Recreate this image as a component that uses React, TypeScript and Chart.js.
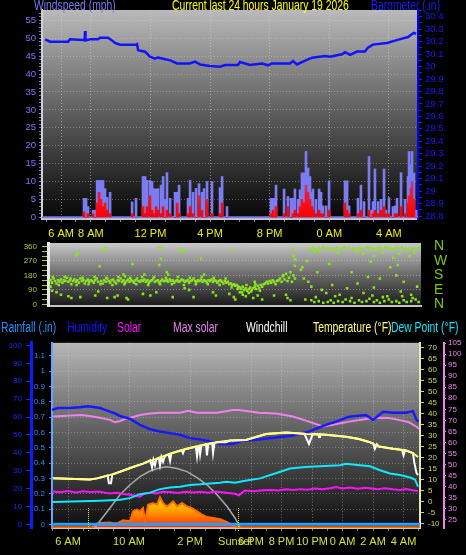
import React, { useEffect, useRef } from 'react';
import { Chart, registerables } from 'chart.js';

Chart.register(...registerables);
Chart.defaults.font.family = "'Liberation Sans', Arial, sans-serif";

// ---------------- DATA ----------------
// time is expressed in hours since midnight of Jan 18 (24 = midnight, 28 = 4 AM next day)
const topTickHours = [6, 8, 12, 16, 20, 24, 28];
const topTickLabels = ['6 AM', '8 AM', '12 PM', '4 PM', '8 PM', '0 AM', '4 AM'];
const bottomTickHours = [6, 10, 14, 18, 20, 22, 24, 26, 28];
const bottomTickLabels = ['6 AM', '10 AM', '2 PM', '6 PM', '8 PM', '10 PM', '0 AM', '2 AM', '4 AM'];
const compassDegrees = [0, 90, 180, 270, 360];
const compassLabels = ['N', 'E', 'S', 'W', 'N'];
const sunriseHour = 7.31;
const sunsetHour = 17.15;

// wind (mph)
const windHours = [7.54, 7.68, 7.81, 8.15, 8.28, 8.42, 8.55, 8.68, 8.82, 8.95, 9.09, 9.29, 10.77, 11.03, 11.5, 11.64, 11.77, 11.97, 12.11, 12.24, 12.38, 12.51, 12.71, 12.85, 12.98, 13.11, 13.32, 13.65, 13.79, 13.92, 14.52, 14.66, 14.86, 15.06, 15.26, 15.46, 15.6, 15.8, 16.13, 16.67, 16.81, 17.14, 20.09, 20.23, 20.36, 20.43, 20.97, 21.23, 21.44, 21.57, 21.7, 21.91, 22.04, 22.17, 22.31, 22.44, 22.58, 22.71, 22.85, 22.91, 23.11, 23.32, 23.45, 23.58, 23.79, 23.99, 25.06, 25.2, 25.33, 25.93, 26.13, 26.34, 26.67, 26.81, 26.94, 27.07, 27.28, 27.48, 27.68, 27.81, 28.01, 28.28, 28.42, 28.55, 28.82, 29.09, 29.29, 29.36, 29.49, 29.56, 29.69, 29.83];
const gustMph = [5.3, 5.3, 3, 2, 2, 10.3, 10.3, 10.3, 10.3, 8, 5.6, 7, 4.3, 5.3, 11.4, 11.4, 10.3, 10.3, 10, 8, 7.9, 8, 9, 11.4, 5, 12.5, 5.3, 7, 7, 9, 5.3, 10.3, 7, 8.1, 9.4, 7, 8, 10, 10, 8.3, 11.4, 3, 5.3, 5.3, 5.3, 9, 7.9, 5.8, 5.3, 5.3, 7.9, 5, 7.7, 12.4, 12.4, 18.4, 13.8, 11.4, 7, 7.9, 5, 7.9, 7, 3.2, 3.2, 10.2, 10.2, 10.2, 3.2, 5.3, 9, 4.4, 17, 2, 4.4, 13.5, 4.4, 5, 13.5, 2, 5.5, 3, 3.2, 5.3, 12.5, 5, 11.4, 18.4, 14.7, 18.4, 12.4, 2];
const avgMph = [1.5, 0, 1, 1, 0, 4, 7, 5, 3, 4, 2, 1, 1, 0, 3, 1, 3, 6, 2, 1, 3, 2, 1, 3, 0, 2, 1, 0, 4, 1, 1, 3, 1, 0, 6, 2, 0, 5, 1, 1, 4, 0, 1, 2, 0, 3, 1, 3, 0, 1, 2, 1, 3, 5, 4, 9, 7, 5, 3, 2, 1, 2, 1, 1, 0, 2, 4, 2, 1, 1, 2, 0, 2, 0, 1, 2, 1, 2, 3, 1, 1, 0, 1, 1, 3, 1, 4, 6, 8, 10, 5, 0];

// barometer (in)
const baroHours = [4.93, 5.26, 6.47, 6.6, 7.48, 7.58, 7.61, 7.64, 7.95, 8.48, 8.62, 9.15, 9.42, 9.62, 9.96, 11.03, 11.1, 11.17, 11.64, 11.97, 12.31, 12.51, 12.85, 13.32, 13.79, 14.66, 14.99, 15.33, 16.0, 16.67, 17.01, 17.88, 18.01, 18.68, 19.49, 19.89, 20.16, 21.37, 21.57, 21.84, 22.24, 22.85, 23.72, 24.05, 24.86, 25.06, 25.4, 25.87, 26.4, 26.6, 26.94, 27.88, 28.42, 28.89, 29.29, 29.56, 29.69, 29.83];
const baroInches = [30.219, 30.2, 30.2, 30.219, 30.214, 30.214, 30.285, 30.21, 30.219, 30.219, 30.232, 30.232, 30.21, 30.189, 30.176, 30.176, 30.18, 30.132, 30.119, 30.079, 30.063, 30.073, 30.063, 30.05, 30.025, 30.025, 30.039, 30.017, 30.004, 29.999, 30.012, 30.012, 30.036, 30.012, 30.025, 30.01, 30.025, 30.025, 30.044, 30.017, 30.039, 30.071, 30.084, 30.079, 30.098, 30.115, 30.093, 30.12, 30.12, 30.152, 30.176, 30.189, 30.208, 30.224, 30.237, 30.261, 30.27, 30.262];

// wind direction readings [hour, degrees]
const dirDayBand: [number, number][] = [[5.3, 150], [5.4, 135], [5.5, 160], [5.6, 145], [5.7, 130], [5.8, 150], [5.9, 140], [6.0, 155], [6.1, 135], [6.2, 150], [6.3, 145], [6.4, 165], [6.5, 140], [6.6, 150], [6.7, 125], [6.8, 145], [6.9, 155], [7.0, 140], [7.1, 150], [7.2, 135], [7.3, 160], [7.4, 145], [7.5, 150], [7.6, 130], [7.7, 145], [7.8, 155], [7.9, 140], [8.0, 150], [8.1, 145], [8.2, 135], [8.3, 150], [8.4, 160], [8.5, 140], [8.7, 145], [8.8, 130], [8.9, 150], [9.0, 140], [9.1, 160], [9.2, 145], [9.3, 135], [9.4, 150], [9.5, 155], [9.6, 140], [9.7, 130], [9.8, 150], [9.9, 145], [10.0, 160], [10.1, 140], [10.2, 150], [10.3, 135], [10.4, 145], [10.5, 155], [10.6, 140], [10.7, 150], [10.8, 145], [10.9, 135], [11.0, 150], [11.1, 160], [11.2, 145], [11.3, 140], [11.4, 150], [11.5, 145], [11.6, 155], [11.7, 140], [11.8, 150], [11.9, 135], [12.0, 145], [12.1, 150], [12.2, 160], [12.3, 140], [12.4, 145], [12.5, 150], [12.6, 135], [12.7, 145], [12.8, 155], [12.9, 145], [13.0, 145], [13.1, 150], [13.2, 140], [13.3, 155], [13.4, 145], [13.5, 150], [13.6, 135], [13.7, 145], [13.8, 150], [13.9, 140], [14.0, 145], [14.1, 155], [14.2, 150], [14.3, 140], [14.4, 145], [14.5, 150], [14.6, 135], [14.7, 145], [14.8, 150], [14.9, 160], [15.0, 145], [15.1, 140], [15.2, 150], [15.3, 145], [15.4, 155], [15.5, 140], [15.6, 150], [15.7, 145], [15.8, 135], [15.9, 150], [16.0, 145], [16.1, 155], [16.2, 140], [16.3, 150], [16.4, 145], [16.5, 135], [16.6, 145], [16.7, 150], [16.8, 140], [16.9, 130], [17.0, 145], [17.1, 135], [17.2, 140], [17.3, 125], [17.4, 130], [17.5, 120], [17.6, 125], [17.7, 115], [17.8, 120], [17.9, 110]];
const dirDaySpread: [number, number][] = [[5.45, 170], [5.85, 120], [6.25, 170], [6.65, 160], [7.05, 120], [7.45, 165], [7.85, 125], [8.25, 170], [8.65, 125], [9.05, 165], [9.45, 120], [9.85, 170], [10.25, 125], [10.65, 165], [11.05, 125], [11.45, 170], [11.85, 120], [12.25, 170], [12.65, 125], [13.05, 165], [13.45, 125], [13.85, 170], [14.25, 120], [14.65, 165], [15.05, 125], [15.45, 170], [15.85, 125], [16.25, 165], [16.65, 120], [17.05, 160], [17.45, 105], [17.85, 95]];
const dirDayScatter: [number, number][] = [[5.3, 110], [5.4, 85], [5.7, 75], [6.0, 60], [6.5, 50], [6.7, 40], [7.0, 305], [7.1, 315], [7.3, 45], [8.3, 55], [8.5, 80], [8.6, 237], [8.8, 341], [9.0, 350], [9.1, 40], [9.6, 45], [9.8, 55], [10.2, 185], [10.3, 175], [10.4, 40], [10.5, 30], [10.8, 250], [11.5, 65], [11.6, 185], [12.0, 55], [12.4, 75], [12.6, 245], [12.6, 355], [12.7, 345], [12.7, 285], [13.1, 200], [13.2, 185], [13.5, 45], [14.0, 340], [14.1, 335], [14.3, 330], [14.3, 100], [14.6, 90], [14.9, 45], [15.4, 285], [15.6, 185], [16.2, 75], [16.4, 55], [17.3, 65], [17.4, 340], [17.6, 45], [17.7, 30], [18.0, 75]];
const dirEvening: [number, number][] = [[18.0, 105], [18.1, 95], [18.2, 110], [18.3, 90], [18.4, 100], [18.5, 85], [18.6, 95], [18.7, 105], [18.8, 90], [18.9, 100], [19.0, 110], [19.1, 95], [19.2, 115], [19.3, 100], [19.4, 120], [19.5, 110], [19.6, 125], [19.7, 130], [18.15, 75], [18.45, 120], [18.75, 80], [19.05, 125], [19.35, 85], [18.2, 60], [18.4, 50], [18.6, 70], [18.9, 40], [19.2, 55], [19.5, 30], [19.0, 140], [19.8, 140], [19.9, 130], [20.0, 145], [20.1, 135], [20.2, 150], [20.3, 140], [20.4, 125], [20.5, 145], [20.6, 150], [20.7, 160], [20.8, 140], [20.9, 175], [21.0, 155], [21.1, 190], [21.2, 145], [21.3, 165], [21.4, 200], [21.5, 140], [21.6, 180], [21.7, 160], [20.9, 180], [21.6, 340], [21.6, 300], [21.7, 280], [21.7, 240], [22.2, 230], [22.1, 215], [20.3, 55], [21.1, 60], [21.2, 40], [21.4, 25]];
const dirNight: [number, number][] = [[22.7, 345], [22.9, 350], [23.1, 340], [23.4, 345], [23.6, 355], [23.9, 350], [24.1, 345], [24.3, 340], [24.5, 350], [24.8, 345], [25.0, 355], [25.3, 350], [25.6, 345], [25.8, 340], [26.0, 350], [26.2, 345], [26.5, 355], [26.7, 350], [26.9, 345], [27.1, 340], [27.3, 350], [27.5, 345], [27.8, 355], [28.0, 350], [28.2, 340], [28.4, 345], [28.6, 350], [28.9, 355], [29.1, 345], [29.3, 340], [29.6, 350], [29.8, 345], [30.0, 350], [23.0, 325], [23.3, 330], [24.6, 320], [25.9, 325], [26.3, 315], [27.6, 320], [28.7, 315], [29.4, 300], [29.7, 320], [27.0, 300], [28.3, 290], [22.3, 160], [22.6, 140], [22.8, 110], [23.2, 200], [23.5, 90], [23.8, 70], [24.2, 120], [24.7, 60], [25.2, 100], [25.5, 200], [25.9, 130], [26.3, 70], [26.6, 170], [27.0, 105], [27.4, 160], [27.9, 50], [28.1, 230], [28.5, 180], [28.8, 80], [29.0, 140], [29.5, 60], [29.9, 110], [22.5, 270], [24.0, 250], [26.8, 265], [28.6, 245], [22.4, 30], [22.8, 25], [23.0, 15], [23.3, 20], [23.6, 10], [23.9, 15], [24.1, 25], [24.3, 10], [24.6, 20], [24.9, 15], [25.1, 30], [25.4, 20], [25.7, 10], [26.0, 25], [26.2, 15], [26.5, 20], [26.7, 35], [27.0, 15], [27.2, 25], [27.4, 10], [27.7, 20], [28.0, 30], [28.2, 15], [28.5, 20], [28.7, 10], [29.0, 25], [29.2, 15], [29.5, 20], [29.8, 30], [30.0, 15], [23.1, 45], [24.4, 50], [25.5, 40], [26.9, 55], [27.6, 45], [28.9, 50], [29.6, 40]];

// lower panel series
const tempHours = [5.02, 7.44, 7.9, 8.75, 9.41, 10.26, 10.92, 11.84, 12.69, 13.54, 14.66, 15.77, 16.36, 16.62, 17.67, 18.98, 20.3, 21.61, 22.92, 24.23, 25.08, 25.74, 26.39, 27.31, 28.16, 28.62, 28.95];
const tempF = [10.5, 10, 10.5, 12, 13.5, 15.7, 17.2, 19.5, 21.7, 23.5, 25.4, 26.9, 26.9, 27.7, 28, 30.7, 31.4, 30.7, 30.4, 29.5, 28.4, 27.1, 25, 24, 23.2, 22, 20.2];
const chillHours = [5.02, 7.44, 7.9, 8.6, 8.68, 8.82, 8.9, 9.41, 10.26, 10.92, 11.4, 11.51, 11.6, 11.7, 11.8, 11.95, 12.03, 12.12, 12.23, 12.35, 12.6, 12.69, 12.78, 13.45, 13.54, 13.63, 14.38, 14.46, 14.55, 14.6, 14.66, 14.74, 15.05, 15.11, 15.2, 15.45, 15.51, 15.6, 15.77, 16.62, 17.67, 18.98, 20.3, 21.5, 21.8, 22.05, 22.4, 22.46, 22.52, 22.92, 24.23, 25.08, 25.74, 26.0, 26.12, 26.25, 26.39, 27.31, 27.9, 28.0, 28.1, 28.16, 28.62, 28.7, 28.85, 28.95];
const chillF = [10.5, 10, 10.5, 11.8, 8.3, 8.3, 12.2, 13.5, 15.7, 17.2, 18.8, 15.5, 19, 16.5, 19.4, 19.9, 16.5, 20.2, 18, 20.6, 21.4, 18.5, 21.9, 23.3, 22, 23.7, 25, 20.5, 25.2, 25.3, 21.5, 25.5, 26, 21, 26.2, 26.6, 22, 26.7, 26.9, 27.7, 28, 30.7, 31.4, 30.8, 26.2, 30.7, 30.6, 29.3, 30.6, 30.4, 29.5, 28.4, 27.1, 26.5, 24, 26, 25, 24, 23.5, 21, 23.3, 23.2, 22, 18, 13, 12];
const dewHours = [4.95, 8.1, 8.75, 9.41, 10.07, 10.72, 11.38, 12.03, 12.69, 13.34, 14.0, 14.66, 15.31, 15.97, 16.36, 16.95, 17.61, 18.59, 19.57, 20.56, 21.54, 22.52, 23.84, 24.23, 25.15, 25.8, 26.46, 27.11, 27.77, 28.43, 28.75, 28.95];
const dewF = [-0.3, 0.3, 0.5, 0.8, 1.5, 3.3, 4, 5.6, 6.3, 6.7, 7.5, 7.8, 8.2, 8.5, 9, 8.5, 9.4, 10.5, 12.7, 15, 15.7, 16, 16.5, 17.2, 16.5, 16, 14.2, 12.7, 12, 10.9, 10, 6.7];
const humHours = [4.95, 5.34, 6.13, 6.79, 7.31, 7.77, 8.1, 8.43, 8.75, 9.08, 9.41, 9.74, 10.07, 10.72, 11.38, 12.03, 12.69, 13.34, 14.0, 14.66, 15.31, 15.97, 16.82, 17.48, 18.52, 19.64, 20.75, 21.8, 22.92, 23.57, 24.43, 25.54, 26.0, 26.66, 27.31, 28.16, 28.62, 28.82, 28.95];
const humPct = [64, 65, 65, 65.5, 66, 65.5, 65, 64, 63, 62, 60.6, 59.8, 58.9, 55.6, 53.2, 51.9, 51, 50.1, 48.2, 47.4, 46.4, 44.9, 44.9, 46.8, 47.4, 48.6, 49.7, 51.9, 55.6, 57.4, 60.2, 61.1, 58.4, 62.9, 62.4, 62.4, 63.3, 58.9, 57.4];
const violetHours = [5.02, 6.79, 7.44, 8.1, 8.75, 9.08, 9.41, 9.74, 10.07, 10.72, 11.38, 12.03, 13.34, 13.87, 14.46, 15.77, 16.82, 17.21, 18.52, 19.64, 20.75, 21.8, 22.72, 23.38, 24.43, 25.54, 26.39, 27.05, 27.7, 28.36, 28.82, 29.02];
const violetVals = [71.7, 72.4, 72, 71.2, 70.2, 69.1, 69.7, 70.6, 71.2, 72.4, 73.1, 73.4, 73.4, 74.3, 73.4, 73.4, 74.7, 74.7, 73.4, 73.1, 71.7, 69.4, 67.2, 68, 69.4, 70.6, 71.2, 71, 70.2, 69.1, 67.2, 66.2];
const magentaHours = [4.95, 5.5, 6.0, 6.5, 7.0, 7.44, 8.0, 8.5, 8.75, 9.2, 9.6, 10.07, 10.4, 10.72, 11.0, 11.38, 11.8, 12.2, 12.69, 13.2, 13.7, 14.2, 14.66, 15.2, 15.7, 16.36, 16.95, 17.2, 17.61, 18.2, 18.8, 19.25, 19.8, 20.3, 20.8, 21.21, 21.7, 22.2, 22.7, 23.18, 23.6, 24.0, 24.49, 25.0, 25.5, 25.8, 26.3, 26.8, 27.3, 27.77, 28.2, 28.6, 28.95];
const magentaVals = [4.5, 4.2, 4.7, 4.1, 4.6, 4.3, 4.5, 3.9, 3.6, 4.0, 3.4, 3.0, 2.6, 2.2, 3.5, 4.0, 3.6, 4.4, 4.3, 3.8, 4.4, 4.1, 4.4, 4.0, 4.5, 4.0, 3.5, 2.8, 5.0, 4.6, 5.1, 5.2, 5.0, 5.5, 5.2, 5.6, 5.3, 5.9, 5.5, 6.0, 6.6, 5.9, 6.3, 5.8, 6.2, 6.0, 5.6, 6.0, 5.5, 5.2, 5.6, 5.1, 4.8];
const rainHours = [4.95, 29.08];
const rainInches = [0, 0];
const maxSolarHours = [7.77, 8.75, 9.41, 10.07, 10.72, 11.38, 12.03, 12.49, 13.15, 13.8, 14.46, 15.11, 15.77, 16.43, 16.95, 17.28];
const maxSolarWm2 = [0, 120, 203, 265, 316, 351, 371, 378, 367, 347, 310, 265, 203, 130, 58, 0];
const solarHours = [4.95, 7.64, 7.77, 8.1, 8.75, 8.95, 9.28, 9.61, 10.07, 10.26, 10.52, 10.72, 10.92, 11.05, 11.25, 11.57, 11.84, 12.03, 12.23, 12.49, 12.69, 12.89, 13.15, 13.48, 13.8, 14.13, 14.46, 14.79, 15.11, 15.51, 15.97, 16.43, 16.82, 17.15, 29.08];
const solarWm2 = [0, 0, 20, 27, 30, 25, 27, 44, 38, 100, 110, 100, 120, 38, 141, 151, 141, 186, 151, 130, 145, 161, 130, 151, 130, 120, 100, 79, 64, 58, 50, 32, 12, 0, 0];

// ---------------- helpers ----------------
const pts = (xs: number[], ys: number[]) => xs.map((x, i) => ({ x, y: ys[i] }));
const pairPts = (arr: [number, number][]) => arr.map(([x, y]) => ({ x, y }));
const topLabel = (v: number) => {
  const i = topTickHours.indexOf(v);
  return i >= 0 ? topTickLabels[i] : '';
};
const bottomLabel = (v: number) => {
  const i = bottomTickHours.indexOf(v);
  return i >= 0 ? bottomTickLabels[i] : '';
};
const compassLabel = (v: number) => {
  const i = compassDegrees.indexOf(v);
  return i >= 0 ? compassLabels[i] : '';
};
const CLEAR = 'rgba(0,0,0,0)';

function gradientBg(id: string, stops: [number, string][]) {
  return {
    id,
    beforeDraw(chart: any) {
      const { ctx, chartArea: a } = chart;
      if (!a) return;
      const g = ctx.createLinearGradient(0, a.top, 0, a.bottom);
      stops.forEach(([o, c]) => g.addColorStop(o, c));
      ctx.save();
      ctx.fillStyle = g;
      ctx.fillRect(a.left, a.top, a.right - a.left, a.bottom - a.top);
      ctx.restore();
    },
  };
}

const calmLine = {
  id: 'calmLine',
  beforeDatasetsDraw(chart: any) {
    const { ctx, chartArea: a, scales } = chart;
    const y = scales.wind.getPixelForValue(0);
    ctx.save();
    ctx.strokeStyle = '#7a7ae8';
    ctx.lineWidth = 2;
    ctx.beginPath();
    ctx.moveTo(a.left, y);
    ctx.lineTo(a.right, y);
    ctx.stroke();
    ctx.restore();
  },
};

const sunMarks = {
  id: 'sunMarks',
  afterDatasetsDraw(chart: any) {
    const { ctx, chartArea: a, scales } = chart;
    ctx.save();
    ctx.strokeStyle = '#e8e830';
    ctx.lineWidth = 1;
    ctx.setLineDash([1, 1]);
    [sunriseHour, sunsetHour].forEach((h) => {
      const px = Math.round(scales.x.getPixelForValue(h)) + 0.5;
      ctx.beginPath();
      ctx.moveTo(px, a.bottom - 20);
      ctx.lineTo(px, a.bottom + 4);
      ctx.stroke();
    });
    ctx.setLineDash([]);
    ctx.fillStyle = '#d4e23a';
    ctx.font = "11px 'Liberation Sans', Arial, sans-serif";
    ctx.textBaseline = 'middle';
    ctx.textAlign = 'left';
    ctx.fillText('Sunset', scales.x.getPixelForValue(sunsetHour) - 20, a.bottom + 13.5);
    ctx.restore();
  },
};

const Txt = ({ x, y, color, children }: { x: number; y: number; color: string; children: React.ReactNode }) => (
  <div
    style={{
      position: 'absolute',
      left: x,
      top: y,
      color,
      font: "14px/14px 'Liberation Sans', Arial, sans-serif",
      whiteSpace: 'nowrap',
      transform: 'scaleX(0.74)',
      transformOrigin: '0 0',
    }}
  >
    {children}
  </div>
);

export default function App() {
  const c1 = useRef<HTMLCanvasElement>(null);
  const c2 = useRef<HTMLCanvasElement>(null);
  const c3 = useRef<HTMLCanvasElement>(null);

  useEffect(() => {
    document.body.style.margin = '0';
    document.body.style.background = '#000';

    const common = {
      responsive: false,
      animation: false as const,
      devicePixelRatio: 1,
      plugins: { legend: { display: false }, tooltip: { enabled: false } },
    };

    // ---------- panel 1: wind + barometer ----------
    const redGrad = (ctx: any) => {
      const chart = ctx.chart;
      const s = chart.scales && chart.scales.wind;
      if (!chart.chartArea || !s) return '#ff2020';
      const g = chart.ctx.createLinearGradient(0, s.getPixelForValue(0), 0, s.getPixelForValue(12));
      g.addColorStop(0, '#ff0000');
      g.addColorStop(0.5, '#f0182a');
      g.addColorStop(1, 'rgba(190,40,140,0.6)');
      return g;
    };

    const chart1 = new Chart(c1.current as HTMLCanvasElement, {
      type: 'bar',
      data: {
        datasets: [
          { type: 'line', data: pts(baroHours, baroInches), yAxisID: 'baro', borderColor: '#1212ff', borderWidth: 2.5, pointRadius: 0, tension: 0, order: 0 } as any,
          { type: 'bar', data: pts(windHours, avgMph), yAxisID: 'wind', backgroundColor: redGrad, barThickness: 2, grouped: false, order: 1 } as any,
          { type: 'bar', data: pts(windHours, gustMph), yAxisID: 'wind', backgroundColor: '#7c7cf0', barThickness: 2, grouped: false, order: 2 } as any,
        ],
      },
      options: {
        ...common,
        layout: { padding: { top: 10, left: 0, right: 0, bottom: 0 } },
        scales: {
          x: {
            type: 'linear', min: 4.72, max: 29.96, offset: false,
            afterFit: (s: any) => { s.height = 26; },
            ticks: { stepSize: 1, autoSkip: false, includeBounds: false, maxRotation: 0, color: '#eeee10', font: { size: 11 }, padding: 5, callback: (v: any) => topLabel(Number(v)) },
            grid: { offset: false, color: (c: any) => (c.tick && topTickHours.includes(c.tick.value) ? 'rgba(215,215,215,0.55)' : CLEAR), tickColor: '#8a8a9a', tickLength: 3 },
            border: { color: '#c8c8c8', width: 2, dash: [1, 2] },
          },
          wind: {
            position: 'left', min: -0.47, max: 57.9,
            afterFit: (s: any) => { s.width = 42; },
            ticks: { stepSize: 1, autoSkip: false, includeBounds: false, color: '#7a7aff', font: { size: 9.5 }, padding: 3, callback: (v: any) => (Number(v) % 5 === 0 ? String(v) : '') },
            grid: { color: (c: any) => (c.tick && c.tick.value % 5 === 0 && c.tick.value > 0 ? 'rgba(215,215,215,0.4)' : CLEAR), tickColor: '#6c6ce0', tickLength: 3 },
            border: { color: '#d0d0d0', width: 2, dash: [1, 2] },
          },
          baro: {
            position: 'right', min: 28.776, max: 30.454,
            afterFit: (s: any) => { s.width = 48; },
            ticks: { stepSize: 0.05, autoSkip: false, includeBounds: false, color: '#1a1aff', font: { size: 9.5 }, padding: 3, callback: (v: any) => (Math.round(Number(v) * 100) % 10 === 0 ? String(Math.round(Number(v) * 10) / 10) : '') },
            grid: { drawOnChartArea: false, tickColor: '#1a1aff', tickLength: 4 },
            border: { color: '#0000ff', width: 2 },
          },
        },
      } as any,
      plugins: [gradientBg('bg1', [[0, '#bababa'], [0.5, '#5c5c5c'], [1, '#060606']]), calmLine],
    });

    // ---------- panel 2: wind direction ----------
    const chart2 = new Chart(c2.current as HTMLCanvasElement, {
      type: 'scatter',
      data: {
        datasets: [
          {
            data: [...pairPts(dirDayBand), ...pairPts(dirDaySpread), ...pairPts(dirDayScatter), ...pairPts(dirEvening), ...pairPts(dirNight)],
            pointStyle: 'rect', pointRadius: 1.8, backgroundColor: '#8ce41c', borderWidth: 0,
          } as any,
        ],
      },
      options: {
        ...common,
        layout: { padding: { top: 13, left: 0, right: 0, bottom: 0 } },
        scales: {
          x: {
            type: 'linear', min: 5.13, max: 30.16,
            afterFit: (s: any) => { s.height = 4; },
            ticks: { display: false },
            grid: { display: false },
            border: { color: '#c4c4c4', width: 2 },
          },
          y: {
            position: 'left', min: -11.4, max: 381,
            afterFit: (s: any) => { s.width = 48; },
            ticks: { stepSize: 30, autoSkip: false, includeBounds: false, color: '#a0d034', font: { size: 8 }, padding: 5, callback: (v: any) => (Number(v) % 90 === 0 ? String(v) : '') },
            grid: { color: (c: any) => (c.tick && c.tick.value % 90 === 0 && c.tick.value > 0 ? 'rgba(225,225,225,0.45)' : CLEAR), tickColor: '#a0d034', tickLength: 6 },
            border: { color: '#e8e8e8', width: 3, dash: [1, 2] },
          },
          compass: {
            position: 'right', min: -11.4, max: 381,
            afterFit: (s: any) => { s.width = 45; },
            ticks: { stepSize: 90, autoSkip: false, includeBounds: false, color: '#7cc80c', font: { size: 14 }, padding: 0, callback: (v: any) => compassLabel(Number(v)) },
            grid: { display: false, drawTicks: true, tickLength: 13 },
            border: { display: false },
          },
        },
      } as any,
      plugins: [gradientBg('bg2', [[0, '#c8c8c8'], [0.5, '#6a6a6a'], [1, '#181818']])],
    });

    // ---------- panel 3: temperature, humidity, solar ----------
    const solarFill = (ctx: any) => {
      const chart = ctx.chart;
      const s = chart.scales && chart.scales.solar;
      if (!chart.chartArea || !s) return '#ff9900';
      const g = chart.ctx.createLinearGradient(0, s.getPixelForValue(190), 0, s.getPixelForValue(0));
      g.addColorStop(0, '#ffe800');
      g.addColorStop(0.45, '#ffa000');
      g.addColorStop(1, '#ff3000');
      return g;
    };

    const line = (data: any, yAxisID: string, color: string, width: number, order: number) => ({
      type: 'line', data, yAxisID, borderColor: color, borderWidth: width, pointRadius: 0, tension: 0, order, fill: false,
    });

    const chart3 = new Chart(c3.current as HTMLCanvasElement, {
      type: 'line',
      data: {
        datasets: [
          line(pts(tempHours, tempF), 'temp', '#ffff80', 2, 0),
          line(pts(chillHours, chillF), 'temp', '#ffffff', 2, 1),
          line(pts(humHours, humPct), 'hum', '#1818ff', 2.5, 2),
          line(pts(violetHours, violetVals), 'pink', '#ee82ee', 2, 3),
          line(pts(dewHours, dewF), 'temp', '#10e8ff', 2, 4),
          line(pts(magentaHours, magentaVals), 'temp', '#ff10ff', 2, 5),
          line(pts(rainHours, rainInches), 'rain', '#2e9bff', 3, 6),
          line(pts(maxSolarHours, maxSolarWm2), 'solar', '#a8a8a8', 1.5, 7),
          { ...line(pts(solarHours, solarWm2), 'solar', '#ff6a00', 2, 8), fill: 'origin', backgroundColor: solarFill },
        ] as any,
      },
      options: {
        ...common,
        layout: { padding: { top: 6, left: 0, right: 0, bottom: 0 } },
        scales: {
          x: {
            type: 'linear', min: 4.95, max: 29.08, offset: false,
            afterFit: (s: any) => { s.height = 27; },
            ticks: { stepSize: 1, autoSkip: false, includeBounds: false, maxRotation: 0, color: '#d4e23a', font: { size: 11 }, padding: 4, callback: (v: any) => bottomLabel(Number(v)) },
            grid: { color: (c: any) => (c.tick && bottomTickHours.includes(c.tick.value) ? 'rgba(215,215,215,0.45)' : CLEAR), tickColor: '#808080', tickLength: 3 },
            border: { color: '#c8c8c8', width: 2, dash: [1, 2] },
          },
          rain: {
            position: 'left', min: -0.024, max: 1.185,
            afterFit: (s: any) => { s.width = 21; },
            ticks: { stepSize: 0.1, autoSkip: false, includeBounds: false, color: '#2f8fff', font: { size: 8 }, padding: 4, callback: (v: any) => String(Math.round(Number(v) * 10) / 10) },
            grid: { color: (c: any) => (c.tick && c.tick.value > 0.05 ? 'rgba(215,215,215,0.35)' : CLEAR), tickColor: '#2f8fff', tickLength: 3 },
            border: { color: '#5aa8ff', width: 2, dash: [1, 2] },
          },
          hum: {
            position: 'left', min: -2.04, max: 101.5,
            afterFit: (s: any) => { s.width = 31; },
            ticks: { stepSize: 10, autoSkip: false, includeBounds: false, color: '#1a2cff', font: { size: 8 }, padding: 4, callback: (v: any) => String(v) },
            grid: { drawOnChartArea: false, tickColor: '#1a2cff', tickLength: 5 },
            border: { color: '#0a1eff', width: 3 },
          },
          temp: {
            position: 'right', min: -12.1, max: 72.24,
            afterFit: (s: any) => { s.width = 24; },
            ticks: { stepSize: 5, autoSkip: false, includeBounds: false, color: '#d6d65a', font: { size: 8 }, padding: 4, callback: (v: any) => String(v) },
            grid: { drawOnChartArea: false, tickColor: '#d6d65a', tickLength: 4 },
            border: { color: '#e8e8b0', width: 2 },
          },
          pink: {
            position: 'right', min: 21.1, max: 105.2,
            afterFit: (s: any) => { s.width = 22; },
            ticks: { stepSize: 5, autoSkip: false, includeBounds: false, color: '#ee82ee', font: { size: 8 }, padding: 2, callback: (v: any) => String(v) },
            grid: { drawOnChartArea: false, tickColor: '#ee82ee', tickLength: 2 },
            border: { color: '#ee82ee', width: 2 },
          },
          solar: { display: false, min: -4.3, max: 1150 },
        },
      } as any,
      plugins: [gradientBg('bg3', [[0, '#b6b6b6'], [0.45, '#646464'], [1, '#0e0e0e']]), sunMarks],
    });

    return () => {
      chart1.destroy();
      chart2.destroy();
      chart3.destroy();
    };
  }, []);

  return (
    <div style={{ position: 'relative', width: 466, height: 555, background: '#000', overflow: 'hidden' }}>
      <canvas ref={c1} width={466} height={245} style={{ position: 'absolute', left: 0, top: 0, display: 'block' }} />
      <canvas ref={c2} width={466} height={86} style={{ position: 'absolute', left: 0, top: 230, display: 'block' }} />
      <canvas ref={c3} width={466} height={221} style={{ position: 'absolute', left: 0, top: 334, display: 'block' }} />
      <Txt x={34} y={-2.5} color="#7878f0">Windspeed (mph)</Txt>
      <Txt x={172} y={-2.5} color="#ffff00">Current last 24 hours January 19 2026</Txt>
      <Txt x={371} y={-2.5} color="#1c1cff">Barometer (.in)</Txt>
      <Txt x={1} y={320} color="#1e90ff">Rainfall (.in)</Txt>
      <Txt x={67} y={320} color="#1414ff">Humidity</Txt>
      <Txt x={117} y={320} color="#ff10ff">Solar</Txt>
      <Txt x={173} y={320} color="#ee82ee">Max solar</Txt>
      <Txt x={246} y={320} color="#ffffff">Windchill</Txt>
      <Txt x={313} y={320} color="#ffff80">Temperature (°F)</Txt>
      <Txt x={391} y={320} color="#10e8ff">Dew Point (°F)</Txt>
    </div>
  );
}
